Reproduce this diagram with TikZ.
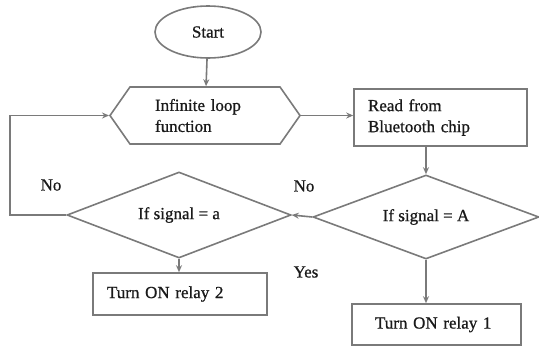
\documentclass[tikz,border=0pt]{standalone}
\usepackage{fontspec}
\setmainfont[FakeBold=0.8]{Liberation Serif}
\usetikzlibrary{shapes.geometric,shapes.symbols,arrows.meta}
\definecolor{linegray}{HTML}{7A7A7A}
\definecolor{inkdark}{HTML}{1A1A1A}
\begin{document}
\begin{tikzpicture}[x=1pt,y=-1pt,
  every node/.style={text=inkdark,font=\fontsize{17}{21}\selectfont},
  outline/.style={draw=linegray,line width=1.6pt},
  arr/.style={draw=linegray,line width=1.6pt,-{Stealth[length=7pt,width=6pt]}},
  box/.style={outline,rectangle,inner sep=0pt,align=left},
  startsh/.style={outline,ellipse,inner sep=0pt,minimum width=106pt,minimum height=52pt},
  hexsh/.style={outline,signal,signal to=west and east,signal pointer angle=110,
    inner sep=0pt,minimum width=190pt,minimum height=57pt,text width=100pt,align=left},
  decision/.style={outline,diamond,inner sep=0pt,aspect=2.6},
  lbl/.style={inner sep=0pt}]
\useasboundingbox (0,0) rectangle (539,349);

\node[startsh] (start) at (208,32) {Start};
\node[hexsh] (loop) at (205,115.5) {Infinite loop\\function};
\node[box,minimum width=173pt,minimum height=57pt,text width=145pt] (read) at (440.5,117.5) {Read from\\Bluetooth chip};
\node[decision,minimum width=226pt,minimum height=84pt] (dA) at (426,217) {If signal = A};
\node[decision,minimum width=224pt,minimum height=86pt] (da) at (179,215) {If signal = a};
\node[box,minimum width=174pt,minimum height=42pt,text width=146pt] (r2) at (180,294) {Turn ON relay 2};
\node[box,minimum width=169pt,minimum height=41pt,text width=123pt] (r1) at (436.5,324.5) {Turn ON relay 1};

\coordinate (back) at (10,215);

\draw[arr] (start) -- (loop);
\draw[arr] (loop.east) -- (loop.east -| read.west);
\draw[arr] (dA.north |- read.south) -- (dA.north);
\draw[arr] (dA.west) -- (da.east);
\draw[arr] (dA.south) -- (dA.south |- r1.north);
\draw[arr] (da.south) -- (da.south |- r2.north);
\draw[arr] (da.west) -- (back) |- (loop.west);

\node[lbl] (noa) at (51,185) {No};
\node[lbl] (noA) at (304,186) {No};
\node[lbl] (yesA) at (306,272) {Yes};
\end{tikzpicture}
\end{document}
